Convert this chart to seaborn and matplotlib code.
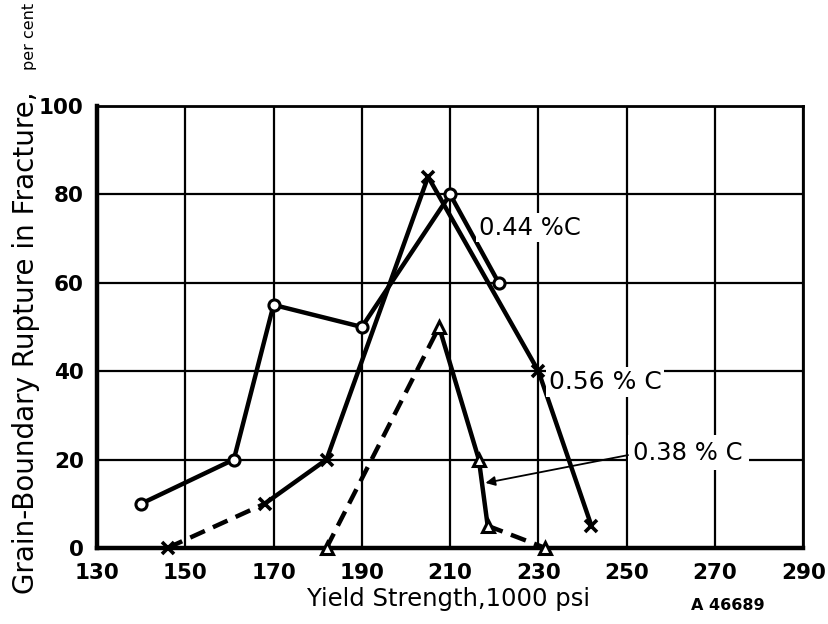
import numpy as np
import pandas as pd
import matplotlib
matplotlib.use("Agg")
import matplotlib.pyplot as plt
import seaborn as sns

# valeurs
x_044 = [140, 161, 170, 190, 210, 221]
y_044 = [10, 20, 55, 50, 80, 60]
ls_044 = ['-', '-', '-', '-', '-']

x_056 = [146, 168, 182, 205, 230, 242]
y_056 = [0, 10, 20, 84, 40, 5]
ls_056 = ['--', '-', '-', '-', '-']

x_038 = [182, 207.5, 216.5, 218.5, 231.5]
y_038 = [0, 50, 20, 5, 0]
ls_038 = ['--', '-', '-', '--']

xticks = list(range(130, 291, 20))
yticks = list(range(0, 101, 20))

sns.set_theme(style="white")
plt.rcParams['font.family'] = ['DejaVu Sans']
plt.rcParams['text.color'] = 'black'
plt.rcParams['axes.labelcolor'] = 'black'
plt.rcParams['xtick.color'] = 'black'
plt.rcParams['ytick.color'] = 'black'

fig = plt.figure(figsize=(8.29, 6.24), dpi=100)
ax = fig.add_axes([0.117, 0.122, 0.852, 0.708])

series = [
    (x_044, y_044, ls_044, 'o', 8),
    (x_056, y_056, ls_056, 'x', 9),
    (x_038, y_038, ls_038, '^', 9),
]

for xs, ys, styles, mk, ms in series:
    for i, st in enumerate(styles):
        seg = pd.DataFrame({'x': xs[i:i + 2], 'y': ys[i:i + 2]})
        sns.lineplot(data=seg, x='x', y='y', ax=ax, color='black', lw=3.2,
                     linestyle=st if st == '-' else (0, (3.6, 2.0)),
                     sort=False, zorder=3, clip_on=False)
    if mk == 'x':
        ax.plot(xs, ys, ls='none', marker='x', ms=ms, mew=2.6, color='black',
                zorder=4, clip_on=False)
    else:
        ax.plot(xs, ys, ls='none', marker=mk, ms=ms, mew=2.2, mfc='white',
                mec='black', zorder=4, clip_on=False)

ax.set_xlim(130, 290)
ax.set_ylim(0, 100)
ax.set_xticks(xticks)
ax.set_yticks(yticks)
ax.tick_params(length=0, labelsize=15.5)
ax.tick_params(axis='x', pad=11)
ax.tick_params(axis='y', pad=9.5)
for lab in ax.get_xticklabels() + ax.get_yticklabels():
    lab.set_fontweight('bold')
ax.grid(True, color='black', lw=1.6, zorder=1)
ax.set_axisbelow(True)
for side in ['top', 'right']:
    ax.spines[side].set_linewidth(2.0)
    ax.spines[side].set_color('black')
for side in ['left', 'bottom']:
    ax.spines[side].set_linewidth(3.2)
    ax.spines[side].set_color('black')

ax.set_xlabel('Yield Strength,1000 psi', fontsize=17.5)
ax.xaxis.set_label_coords(0.497, -0.088)
ax.set_ylabel('Grain-Boundary Rupture in Fracture,', fontsize=20)
ax.yaxis.set_label_coords(-0.081, 0.465)
fig.text(0.036, 0.942, 'per cent', fontsize=11.5, rotation=90,
         ha='center', va='center')

box = dict(facecolor='white', edgecolor='none', pad=2)
ax.text(216.5, 72.5, '0.44 %C', fontsize=17.5, va='center', ha='left',
        bbox=box, zorder=5)
ax.text(232.3, 37.5, '0.56 % C', fontsize=18, va='center', ha='left',
        bbox=box, zorder=5)
ax.text(251.5, 21.5, '0.38 % C', fontsize=17.5, va='center', ha='left',
        bbox=dict(facecolor='white', edgecolor='none', pad=4), zorder=5)
ax.annotate('', xy=(218, 14.7), xytext=(250.3, 21),
            arrowprops=dict(arrowstyle='-|>', color='black', lw=1.3,
                            mutation_scale=14, shrinkA=0, shrinkB=0),
            zorder=5)

fig.text(0.878, 0.030, 'A 46689', fontsize=11.5, fontweight='bold',
         ha='center', va='center')

fig.savefig('out.png', dpi=100)
